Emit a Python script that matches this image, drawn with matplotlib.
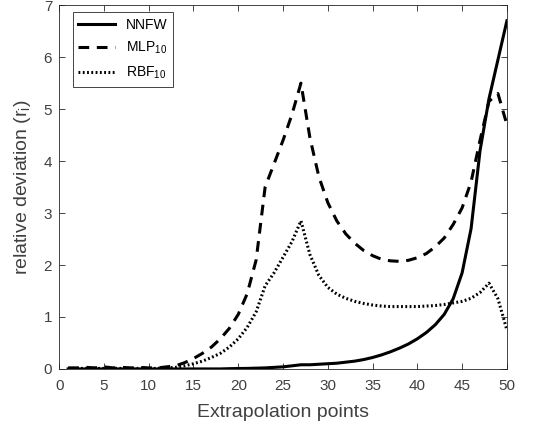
import numpy as np
import matplotlib
matplotlib.use('Agg')
from matplotlib import pyplot as plt

plt.rcParams['font.family'] = ['Liberation Sans', 'DejaVu Sans']
plt.rcParams['mathtext.fontset'] = 'custom'
plt.rcParams['mathtext.rm'] = 'Liberation Sans'

points = list(range(1, 51))
nnfw = [0.0, 0.0, 0.0, 0.0, 0.0, 0.0, 0.0, 0.0, 0.0, 0.0,
        0.0, 0.0, 0.0, 0.0, 0.0, 0.0, 0.0, 0.0, 0.005, 0.008,
        0.01, 0.015, 0.02, 0.03, 0.04, 0.06, 0.08, 0.08, 0.09, 0.1,
        0.11, 0.13, 0.15, 0.18, 0.22, 0.27, 0.33, 0.4, 0.48, 0.58,
        0.7, 0.85, 1.05, 1.35, 1.85, 2.7, 4.2, 5.2, 5.95, 6.7]
mlp10 = [0.02, 0.02, 0.03, 0.02, 0.04, 0.02, 0.03, 0.02, 0.03, 0.02,
         0.02, 0.04, 0.06, 0.12, 0.2, 0.3, 0.42, 0.58, 0.78, 1.05,
         1.45, 2.1, 3.5, 3.95, 4.4, 4.9, 5.5, 4.45, 3.7, 3.2,
         2.85, 2.6, 2.42, 2.28, 2.18, 2.11, 2.08, 2.07, 2.09, 2.14,
         2.22, 2.35, 2.52, 2.78, 3.1, 3.6, 4.4, 5.15, 5.3, 4.7]
rbf10 = [0.01, 0.01, 0.01, 0.01, 0.01, 0.01, 0.01, 0.01, 0.01, 0.01,
         0.01, 0.02, 0.03, 0.06, 0.1, 0.15, 0.22, 0.3, 0.42, 0.58,
         0.8, 1.1, 1.6, 1.85, 2.15, 2.45, 2.85, 2.2, 1.8, 1.57,
         1.44, 1.36, 1.3, 1.26, 1.23, 1.21, 1.2, 1.2, 1.2, 1.2,
         1.21, 1.22, 1.24, 1.27, 1.3, 1.36, 1.47, 1.65, 1.35, 0.75]

fig = plt.figure(figsize=(5.48, 4.32), dpi=100)
ax = fig.add_axes([0.108, 0.146, 0.817, 0.842])

ax.plot(points, nnfw, 'k-', lw=2.2, label='NNFW')
ax.plot(points, mlp10, 'k', ls=(0, (3.5, 2.5)), lw=2.2, label=r'MLP$_{\mathregular{10}}$')
ax.plot(points, rbf10, 'k', ls=(0, (0.6, 0.8)), lw=2.2, label=r'RBF$_{\mathregular{10}}$')

ax.set_xlim(0, 50)
ax.set_ylim(0, 7)
ax.set_xticks(np.arange(0, 51, 5))
ax.set_yticks(np.arange(0, 8, 1))
gray = '#262626'
for s in ax.spines.values():
    s.set_color(gray)
    s.set_linewidth(0.6)
ax.tick_params(direction='in', top=True, right=True, colors=gray,
               labelcolor='#404040', labelsize=11, length=4, width=0.6)
ax.tick_params(axis='x', pad=7)
ax.tick_params(axis='y', pad=5)
ax.set_xlabel('Extrapolation points', fontsize=14, color='#404040', labelpad=8)
ax.set_ylabel(r'relative deviation (r$_{\mathregular{i}}$)', fontsize=14, color='#404040', labelpad=8)

leg = ax.legend(loc='upper left', fontsize=10, fancybox=False, framealpha=1,
                edgecolor=gray, handlelength=2.6, borderpad=0.4, labelspacing=0.6,
                bbox_to_anchor=(0.015, 1.0))
leg.get_frame().set_linewidth(0.6)

fig.savefig('out.png', dpi=100)
